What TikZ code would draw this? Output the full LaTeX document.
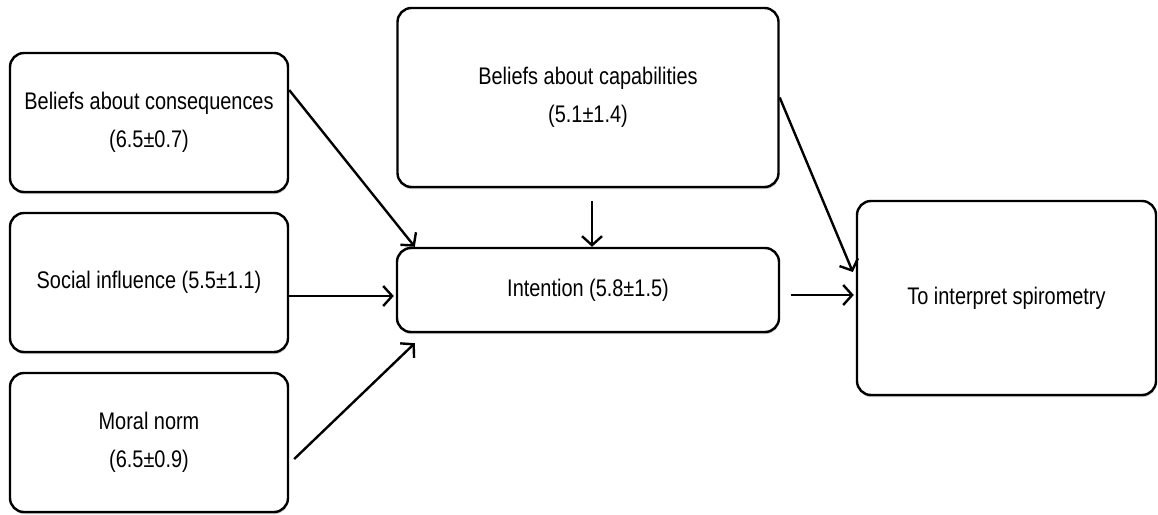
\documentclass[tikz,border=0pt]{standalone}
\usepackage{fontspec}
\setmainfont{Liberation Sans}[FakeStretch=0.83]
\usepackage{tikz}
\usetikzlibrary{arrows.meta,shadows}

\begin{document}
\begin{tikzpicture}[x=1pt,y=-1pt,
  box/.style={draw, fill=white, line width=2.4pt, rounded corners=14pt, align=center,
    font=\fontsize{24}{38}\selectfont, inner sep=0pt,
    drop shadow={shadow xshift=0.5pt, shadow yshift=-2pt, opacity=0.35, fill=black!70}},
  arr/.style={-{Straight Barb[length=9pt,width=20pt]}, line width=2.4pt}]
\useasboundingbox (0,0) rectangle (1158,514);

\node at (149,122.5) (cons)[box, minimum width=278pt, minimum height=139pt]
  {Beliefs about consequences\\(6.5±0.7)};
\node at (149,282.5) (social)[box, minimum width=278pt, minimum height=139pt]
  {Social influence (5.5±1.1)};
\node at (149,442.5) (moral)[box, minimum width=278pt, minimum height=139pt]
  {Moral norm\\(6.5±0.9)};
\node at (588,97.5) (capab)[box, minimum width=381pt, minimum height=179pt]
  {Beliefs about capabilities\\(5.1±1.4)};
\node at (588,290) (intent)[box, minimum width=382pt, minimum height=84pt]
  {Intention (5.8±1.5)};
\node at (1006.5,298) (spiro)[box, minimum width=299pt, minimum height=194pt]
  {To interpret spirometry};

\coordinate (se) at ([yshift=-13.5pt]social.east);
\coordinate (ie) at ([xshift=11pt,yshift=-5pt]intent.east);

\draw[arr] ([yshift=32.5pt]cons.east) -- ([xshift=19pt]intent.north west);
\draw[arr] (se) -- ([xshift=-2pt]se -| intent.west);
\draw[arr] ([xshift=5pt,yshift=-16.5pt]moral.east) -- ([xshift=19pt,yshift=-10pt]intent.south west);
\draw[arr] ([xshift=4pt,yshift=-13pt]capab.south) -- ([xshift=4pt]intent.north);
\draw[arr] (capab.east) -- ([xshift=-3pt,yshift=26pt]spiro.west);
\draw[arr] (ie) -- ([xshift=-2pt]ie -| spiro.west);
\end{tikzpicture}
\end{document}
